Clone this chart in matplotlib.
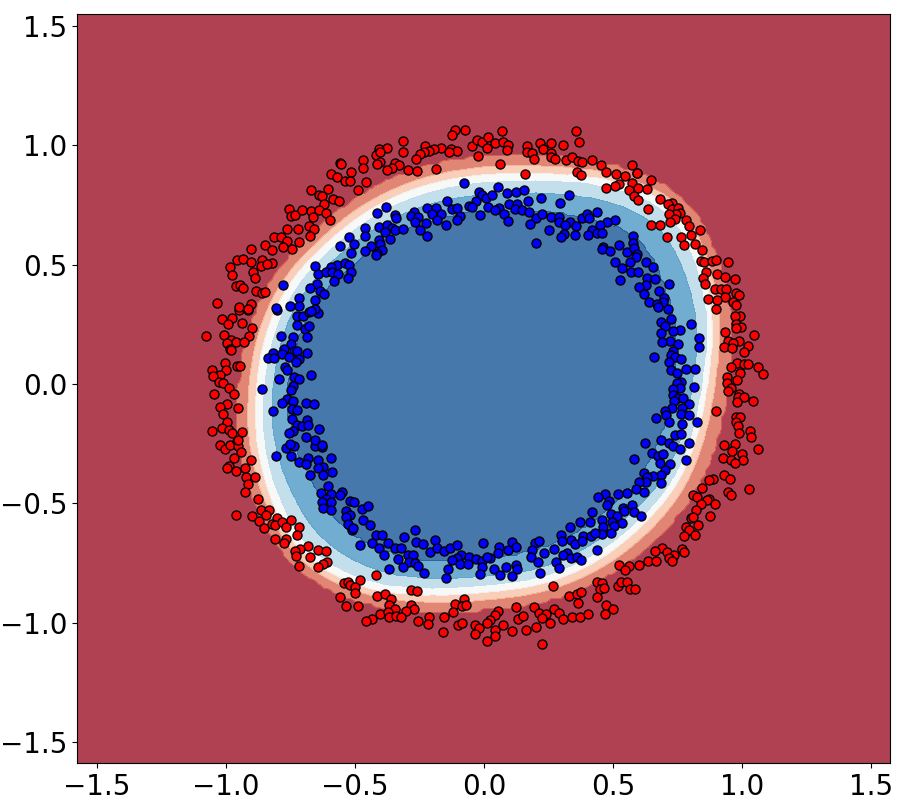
import numpy as np
import matplotlib
matplotlib.use("Agg")
import matplotlib.pyplot as plt

red_points = [
(-0.558,0.924),(-0.591,0.878),(-0.570,0.868),(-0.670,0.813),(-0.605,0.816),(-0.640,0.792),(-0.626,0.787),(-0.586,0.777),(-0.561,0.766),(-0.621,0.756),
(-0.755,0.735),(-0.746,0.704),(-0.730,0.707),(-0.706,0.727),(-0.671,0.725),(-0.640,0.727),(-0.610,0.717),(-0.663,0.699),(-0.595,0.689),(-0.763,0.648),
(-0.719,0.650),(-0.677,0.661),(-0.657,0.648),(-0.675,0.622),(-0.813,0.617),(-0.788,0.617),(-0.763,0.599),(-0.715,0.594),(-0.849,0.581),(-0.822,0.561),
(-0.779,0.573),(-0.742,0.567),(-0.903,0.564),
(-0.112,1.063),(-0.074,1.064),(-0.124,1.042),(-0.312,1.019),(-0.230,0.997),(-0.165,0.990),(-0.195,0.984),(-0.213,0.977),(-0.128,0.984),(-0.106,0.977),
(-0.136,0.970),(-0.232,0.970),(-0.247,0.962),(-0.312,0.973),(-0.374,0.987),(-0.407,0.983),(-0.418,0.960),(-0.403,0.970),(-0.470,0.939),(-0.262,0.941),
(-0.401,0.928),(-0.414,0.921),(-0.345,0.924),(-0.328,0.916),(-0.358,0.904),(-0.374,0.896),(-0.470,0.904),(-0.294,0.897),(-0.261,0.892),(-0.185,0.902),
(-0.516,0.890),(-0.554,0.923),(-0.538,0.850),(-0.520,0.851),(-0.457,0.848),(-0.489,0.811),(-0.047,0.997),(-0.027,1.022),(-0.007,1.015),
(0.017,1.036),(0.010,0.988),(-0.023,0.953),
(0.070,1.060),(0.355,1.058),(0.369,1.015),(0.044,1.011),(0.074,1.012),(0.094,1.000),(0.090,0.980),(0.165,0.995),(0.168,0.972),(0.187,0.969),(0.194,0.944),
(0.217,1.008),(0.259,1.008),(0.227,0.983),(0.307,1.002),(0.259,0.966),(0.261,0.952),(0.275,0.944),(0.316,0.938),(0.342,0.952),(0.365,0.935),(0.379,0.930),
(0.419,0.938),(0.453,0.916),(0.062,0.920),(0.160,0.881),(0.359,0.889),(0.375,0.874),(0.472,0.889),(0.512,0.881),(0.544,0.871),(0.573,0.917),(0.592,0.882),
(0.573,0.844),(0.522,0.837),(0.506,0.829),(0.473,0.822),(0.562,0.813),(0.597,0.822),(0.582,0.787),(0.597,0.770),
(0.593,0.884),(0.648,0.853),(0.631,0.815),(0.682,0.777),(0.728,0.758),(0.713,0.752),(0.729,0.734),(0.752,0.738),(0.759,0.717),(0.742,0.710),(0.715,0.714),
(0.739,0.693),(0.635,0.734),(0.645,0.668),(0.682,0.665),(0.719,0.677),(0.783,0.685),(0.793,0.663),(0.835,0.644),(0.801,0.623),(0.709,0.616),(0.764,0.614),
(0.773,0.584),(0.817,0.586),(0.844,0.563),(0.842,0.514),(0.851,0.509),(0.881,0.516),(0.897,0.521),(0.944,0.511),(0.859,0.469),(0.903,0.461),(0.935,0.450),
(0.973,0.440),(0.848,0.444),(0.854,0.418),(0.895,0.399),(0.917,0.398),(0.937,0.398),(0.977,0.381),(0.986,0.373),(0.935,0.366),(0.868,0.357),(0.903,0.350),
(0.964,0.345),(0.974,0.329),
(0.898,0.314),(0.991,0.286),(0.971,0.285),(0.974,0.253),(0.995,0.239),(0.974,0.233),(0.934,0.216),(1.045,0.205),(0.944,0.181),(0.987,0.178),(0.964,0.173),
(0.930,0.156),(0.962,0.152),(1.024,0.157),(1.006,0.134),(0.979,0.086),(1.007,0.085),(1.024,0.083),(1.059,0.073),(0.957,0.072),(1.081,0.040),(0.993,0.044),
(0.942,0.031),(0.940,0.002),(0.980,0.015),(0.956,-0.016),(0.943,-0.029),(0.987,-0.044),(0.982,-0.055),(1.006,-0.054),(1.042,-0.072),(0.978,-0.076),
(0.898,-0.114),(0.974,-0.138),(0.992,-0.138),(0.974,-0.159),(0.982,-0.177),(1.031,-0.197),(0.988,-0.207),
(1.033,-0.224),(0.928,-0.257),(0.973,-0.253),(1.059,-0.274),(0.962,-0.281),(0.999,-0.295),(0.925,-0.312),(0.957,-0.320),(1.001,-0.319),(0.973,-0.330),
(0.931,-0.380),(0.952,-0.398),(0.885,-0.400),(0.870,-0.403),(1.027,-0.442),(0.944,-0.452),(0.957,-0.464),(0.845,-0.436),(0.809,-0.467),(0.823,-0.473),
(0.873,-0.481),(0.864,-0.487),(0.841,-0.504),(0.895,-0.504),(0.819,-0.527),(0.801,-0.560),(0.811,-0.558),(0.875,-0.554),(0.830,-0.589),(0.783,-0.599),
(0.793,-0.610),(0.775,-0.637),(0.818,-0.634),(0.689,-0.688),(0.661,-0.698),(0.707,-0.704),(0.765,-0.690),(0.774,-0.702),(0.735,-0.715),(0.717,-0.729),
(0.636,-0.743),(0.664,-0.742),(0.726,-0.743),(0.524,-0.757),(0.560,-0.764),(0.600,-0.757),
(0.544,-0.778),(0.268,-0.847),(0.436,-0.830),(0.457,-0.833),(0.451,-0.857),(0.466,-0.854),(0.520,-0.847),(0.530,-0.830),(0.555,-0.831),(0.565,-0.857),
(0.584,-0.859),(0.330,-0.887),(0.359,-0.882),(0.375,-0.873),(0.437,-0.893),(0.365,-0.918),(0.123,-0.934),(0.195,-0.934),(0.213,-0.959),(0.272,-0.943),
(0.292,-0.960),(0.241,-0.964),(0.223,-0.980),(0.133,-0.983),(0.150,-0.974),(0.307,-0.985),(0.255,-1.001),(0.342,-0.976),(0.372,-0.977),(0.401,-0.962),
(0.472,-0.928),(0.499,-0.941),(0.468,-0.964),(0.055,-0.952),(0.043,-0.969),(0.023,-0.990),(0.072,-1.011),(0.043,-1.029),(0.110,-1.033),(0.163,-1.030),
(0.203,-1.020),(0.043,-1.055),(0.226,-1.089),
(-0.419,-0.802),(-0.480,-0.822),(-0.542,-0.833),(-0.525,-0.829),(-0.519,-0.843),(-0.499,-0.850),(-0.499,-0.875),(-0.284,-0.865),(-0.258,-0.869),(-0.558,-0.892),
(-0.413,-0.889),(-0.382,-0.880),(-0.361,-0.901),(-0.369,-0.925),(-0.533,-0.929),(-0.489,-0.929),(-0.114,-0.920),(-0.076,-0.899),(-0.085,-0.931),(-0.069,-0.928),
(-0.282,-0.927),(-0.271,-0.943),(-0.302,-0.952),(-0.345,-0.942),(-0.121,-0.955),(-0.403,-0.964),(-0.370,-0.956),(-0.369,-0.978),(-0.342,-0.974),(-0.323,-0.976),
(-0.434,-0.983),(-0.458,-0.992),(-0.213,-0.976),(-0.254,-0.994),(-0.218,-1.004),(-0.154,-0.978),(-0.102,-1.008),(-0.085,-1.001),(-0.160,-1.041),(-0.035,-1.008),
(-0.020,-1.023),(-0.035,-1.048),(0.013,-1.001),(0.010,-1.078),
(-1.022,-0.256),(-1.003,-0.274),(-0.983,-0.256),(-0.958,-0.239),(-0.951,-0.260),(-0.942,-0.285),(-0.968,-0.309),(-0.986,-0.344),(-0.996,-0.354),(-0.903,-0.319),
(-0.924,-0.354),(-0.961,-0.365),(-0.921,-0.389),(-0.887,-0.391),(-0.912,-0.421),(-0.927,-0.452),(-0.874,-0.484),(-0.961,-0.547),(-0.898,-0.552),(-0.863,-0.529),
(-0.831,-0.529),(-0.845,-0.550),(-0.870,-0.575),(-0.850,-0.604),(-0.803,-0.561),(-0.822,-0.585),(-0.809,-0.592),(-0.783,-0.580),(-0.749,-0.571),(-0.768,-0.601),
(-0.715,-0.601),(-0.725,-0.634),(-0.810,-0.648),(-0.767,-0.649),(-0.773,-0.666),(-0.680,-0.680),(-0.712,-0.690),(-0.733,-0.701),(-0.641,-0.694),(-0.612,-0.699),
(-0.727,-0.722),(-0.674,-0.725),(-0.716,-0.761),(-0.607,-0.746),(-0.625,-0.755),(-0.641,-0.767),
(-1.013,0.271),(-0.975,0.275),(-0.990,0.253),(-0.938,0.254),(-0.897,0.234),(-1.075,0.199),(-1.005,0.204),(-0.911,0.201),(-0.981,0.184),(-0.959,0.177),
(-0.929,0.177),(-0.994,0.170),(-0.983,0.145),(-0.978,0.142),(-1.003,0.089),(-0.956,0.075),(-0.944,0.075),(-1.055,0.057),(-0.999,0.059),(-1.022,0.037),
(-1.050,0.033),(-1.028,0.008),(-1.009,0.005),(-0.986,-0.018),(-0.968,-0.040),(-1.046,-0.040),(-0.994,-0.085),(-1.022,-0.096),(-0.954,-0.102),(-1.012,-0.124),
(-0.996,-0.159),(-1.014,-0.186),(-1.053,-0.197),(-0.988,-0.191),(-0.939,-0.202),(-0.974,-0.204),(-0.954,-0.236),(-0.947,0.310),(-0.912,0.310),
(-0.958,0.519),(-0.934,0.523),(-0.982,0.488),(-0.901,0.509),(-0.861,0.518),(-0.820,0.508),(-0.863,0.495),(-0.842,0.502),(-0.976,0.455),(-0.893,0.467),
(-0.887,0.442),(-0.960,0.411),(-0.945,0.413),(-0.934,0.403),(-0.883,0.389),(-0.861,0.383),(-0.848,0.386),(-1.035,0.341),(-0.947,0.323),(-0.903,0.333),(-0.912,0.316),
]

blue_points = [
(-0.079,0.843),(-0.020,0.805),(-0.142,0.767),(-0.009,0.791),(0.006,0.781),(-0.030,0.766),(-0.378,0.742),(-0.416,0.717),(-0.345,0.708),(-0.339,0.694),
(-0.270,0.721),(-0.220,0.739),(-0.185,0.736),(-0.167,0.714),(-0.200,0.714),(-0.125,0.731),(-0.106,0.736),(-0.057,0.745),(-0.047,0.742),(0.017,0.742),
(-0.092,0.704),(-0.105,0.685),(-0.014,0.707),(-0.284,0.704),(-0.254,0.700),(-0.269,0.679),(-0.226,0.675),(-0.181,0.686),(-0.149,0.665),(-0.459,0.654),
(-0.407,0.658),(-0.374,0.668),(-0.355,0.655),(-0.345,0.643),(-0.383,0.637),(-0.312,0.648),(-0.247,0.643),(-0.461,0.622),(-0.521,0.615),(-0.222,0.620),
(-0.365,0.609),(-0.503,0.585),(-0.408,0.602),(-0.401,0.585),(-0.437,0.577),(-0.459,0.559),(-0.515,0.550),(-0.395,0.563),(-0.558,0.577),
(0.054,0.825),(0.030,0.791),(0.089,0.799),(0.124,0.806),(0.155,0.812),(0.330,0.791),(0.222,0.781),(0.294,0.759),(0.169,0.766),(0.095,0.752),(0.129,0.753),
(0.057,0.738),(0.041,0.728),(0.119,0.735),(0.076,0.714),(0.148,0.728),(0.173,0.722),(0.200,0.696),(0.226,0.710),(0.259,0.699),(0.290,0.700),(0.332,0.680),
(0.290,0.678),(0.313,0.665),(0.357,0.662),(0.381,0.697),(0.400,0.713),(0.408,0.696),(0.436,0.721),(0.507,0.687),(0.475,0.678),(0.450,0.664),(0.093,0.683),
(0.178,0.669),(0.252,0.647),(0.310,0.630),(0.298,0.617),(0.352,0.626),(0.417,0.647),(0.404,0.623),(0.439,0.633),(0.457,0.634),(0.575,0.620),(0.575,0.589),
(0.201,0.592),(0.522,0.582),(0.459,0.574),(0.457,0.566),(0.489,0.556),(0.553,0.552),(0.580,0.568),(0.591,0.543),
(0.588,0.531),(0.565,0.511),(0.627,0.511),(0.654,0.492),(0.571,0.467),(0.595,0.471),(0.631,0.443),(0.662,0.441),(0.626,0.413),(0.717,0.419),(0.600,0.405),
(0.679,0.388),(0.619,0.376),(0.698,0.359),(0.640,0.343),(0.694,0.343),(0.671,0.336),(0.534,0.486),(0.507,0.511),(0.527,0.436),
(0.673,0.324),(0.712,0.316),(0.724,0.272),(0.685,0.258),(0.700,0.243),(0.800,0.253),(0.760,0.227),(0.731,0.220),(0.685,0.212),(0.833,0.191),(0.833,0.156),
(0.722,0.180),(0.690,0.174),(0.751,0.166),(0.731,0.139),(0.660,0.113),(0.724,0.120),(0.738,0.111),(0.764,0.103),(0.716,0.094),(0.725,0.057),(0.748,0.047),
(0.783,0.061),(0.818,0.061),(0.764,0.009),(0.746,0.002),(0.759,-0.015),(0.815,-0.011),(0.733,-0.023),(0.730,-0.046),(0.751,-0.058),(0.771,-0.058),(0.734,-0.072),
(0.795,-0.086),(0.729,-0.099),(0.768,-0.102),(0.702,-0.113),(0.706,-0.128),(0.761,-0.125),(0.795,-0.132),(0.667,-0.141),(0.715,-0.159),(0.768,-0.166),
(0.823,-0.160),(0.739,-0.212),(0.761,-0.211),
(0.624,-0.246),(0.684,-0.236),(0.715,-0.246),(0.793,-0.246),(0.730,-0.260),(0.757,-0.274),(0.652,-0.288),(0.675,-0.302),(0.692,-0.295),(0.582,-0.315),
(0.782,-0.317),(0.683,-0.330),(0.719,-0.336),(0.699,-0.359),(0.618,-0.371),(0.685,-0.380),(0.653,-0.387),(0.630,-0.389),(0.628,-0.410),(0.601,-0.410),
(0.685,-0.417),(0.590,-0.441),(0.621,-0.453),(0.553,-0.455),(0.520,-0.462),(0.467,-0.460),(0.484,-0.491),(0.477,-0.508),(0.537,-0.518),(0.543,-0.534),
(0.574,-0.508),(0.582,-0.537),(0.606,-0.555),(0.490,-0.546),(0.514,-0.554),(0.533,-0.581),(0.497,-0.578),(0.504,-0.596),(0.455,-0.571),(0.459,-0.599),
(0.490,-0.624),(0.457,-0.630),(0.372,-0.578),(0.418,-0.536),(0.441,-0.473),(0.410,-0.578),(0.333,-0.599),
(0.107,-0.663),(0.124,-0.682),(0.058,-0.684),(0.094,-0.696),(0.053,-0.707),(0.023,-0.728),(0.197,-0.668),(0.214,-0.658),(0.185,-0.696),(0.182,-0.724),
(0.232,-0.707),(0.210,-0.747),(0.085,-0.768),(0.124,-0.759),(0.129,-0.777),(0.040,-0.777),(0.062,-0.802),(0.108,-0.805),(0.217,-0.791),(0.279,-0.745),
(0.289,-0.770),(0.272,-0.690),(0.298,-0.634),(0.303,-0.656),(0.337,-0.654),(0.352,-0.670),(0.382,-0.637),(0.378,-0.656),(0.414,-0.635),(0.430,-0.626),
(0.320,-0.710),(0.307,-0.718),(0.337,-0.731),(0.359,-0.726),(0.375,-0.738),(0.436,-0.697),
(-0.418,-0.634),(-0.396,-0.633),(-0.310,-0.642),(-0.479,-0.675),(-0.434,-0.668),(-0.407,-0.689),(-0.373,-0.668),(-0.345,-0.689),(-0.323,-0.689),(-0.386,-0.715),
(-0.263,-0.661),(-0.235,-0.672),(-0.190,-0.654),(-0.209,-0.703),(-0.182,-0.689),(-0.154,-0.698),(-0.130,-0.686),(-0.106,-0.675),(-0.005,-0.668),(-0.294,-0.715),
(-0.276,-0.718),(-0.333,-0.733),(-0.292,-0.745),(-0.267,-0.749),(-0.254,-0.763),(-0.312,-0.767),(-0.368,-0.775),(-0.231,-0.794),(-0.088,-0.715),(-0.106,-0.731),
(-0.123,-0.738),(-0.057,-0.726),(-0.031,-0.733),(-0.009,-0.740),(0.010,-0.724),(-0.093,-0.753),(-0.061,-0.756),(-0.009,-0.766),(-0.138,-0.775),(-0.016,-0.798),
(-0.146,-0.812),(-0.510,-0.612),(-0.267,-0.612),
(-0.807,-0.300),(-0.768,-0.270),(-0.736,-0.258),(-0.749,-0.300),(-0.654,-0.258),(-0.629,-0.263),(-0.715,-0.327),(-0.683,-0.312),(-0.690,-0.335),(-0.641,-0.319),
(-0.622,-0.347),(-0.641,-0.354),(-0.587,-0.370),(-0.625,-0.383),(-0.672,-0.382),(-0.594,-0.312),(-0.605,-0.426),(-0.631,-0.456),(-0.592,-0.459),(-0.551,-0.454),
(-0.558,-0.466),(-0.613,-0.480),(-0.626,-0.494),(-0.592,-0.494),(-0.622,-0.519),(-0.594,-0.529),(-0.518,-0.491),(-0.503,-0.494),(-0.474,-0.522),(-0.448,-0.510),
(-0.534,-0.533),(-0.519,-0.550),(-0.534,-0.559),(-0.469,-0.571),(-0.525,-0.585),(-0.509,-0.603),(-0.442,-0.592),
(-0.803,0.310),(-0.724,0.286),(-0.699,0.285),(-0.676,0.303),(-0.641,0.299),(-0.725,0.246),(-0.694,0.230),(-0.676,0.244),(-0.785,0.201),(-0.741,0.195),
(-0.686,0.198),(-0.747,0.166),(-0.773,0.145),(-0.737,0.138),(-0.723,0.139),(-0.685,0.128),(-0.816,0.128),(-0.783,0.124),(-0.757,0.114),(-0.837,0.107),
(-0.813,0.110),(-0.717,0.103),(-0.728,0.090),(-0.770,0.072),(-0.763,0.058),(-0.671,0.036),(-0.734,0.029),(-0.715,0.019),(-0.795,0.019),(-0.741,-0.008),
(-0.748,-0.026),(-0.861,-0.022),(-0.764,-0.061),(-0.783,-0.078),(-0.738,-0.071),(-0.688,-0.079),(-0.659,-0.086),(-0.816,-0.113),(-0.745,-0.103),(-0.723,-0.110),
(-0.745,-0.146),(-0.684,-0.152),(-0.725,-0.173),(-0.703,-0.177),(-0.680,-0.173),(-0.639,-0.190),(-0.741,-0.197),(-0.756,-0.204),(-0.690,-0.222),(-0.654,-0.233),
(-0.751,-0.250),(-0.628,-0.257),
(-0.416,0.550),(-0.653,0.494),(-0.571,0.497),(-0.538,0.505),(-0.523,0.498),(-0.593,0.491),(-0.642,0.460),(-0.612,0.467),(-0.587,0.467),(-0.564,0.459),
(-0.515,0.467),(-0.527,0.445),(-0.582,0.432),(-0.648,0.418),(-0.780,0.414),(-0.674,0.401),(-0.635,0.390),(-0.621,0.375),(-0.654,0.351),(-0.715,0.362),
(-0.715,0.326),(-0.751,0.327),(-0.804,0.317),(-0.654,0.316),(-0.671,0.306),(-0.420,0.540),
]

# Decision-surface contours: outer radius per direction, and how far each
# following contour lies inside it.
angles_deg = [0,15,30,45,60,75,90,105,120,135,150,165,180,195,210,225,240,255,270,285,300,315,330,345]
outer_radius = [.935,.985,1.04,1.105,1.045,.975,.945,.932,.92,.91,.925,.93,.94,.975,1.015,1.06,1.035,.975,.935,.935,.93,.925,.93,.925]
inset_1 = [.046,.041,.036,.03,.036,.038,.04,.039,.036,.036,.034,.033,.033,.036,.036,.03,.033,.034,.035,.036,.036,.038,.042,.046]
inset_2 = [.075,.07,.06,.055,.065,.07,.072,.07,.067,.065,.063,.062,.062,.065,.06,.055,.06,.065,.068,.068,.07,.075,.075,.075]
inset_3 = [.095,.09,.085,.085,.095,.10,.105,.103,.10,.095,.095,.095,.094,.095,.093,.09,.09,.095,.097,.097,.10,.10,.097,.095]
inset_4 = [.13,.13,.135,.155,.155,.155,.155,.15,.145,.135,.13,.125,.125,.13,.145,.155,.145,.135,.131,.133,.138,.14,.132,.13]
inset_5 = [.20,.205,.225,.24,.235,.225,.215,.21,.205,.195,.185,.18,.179,.195,.23,.245,.225,.205,.202,.205,.208,.21,.207,.20]
contour_levels = [0, .15, .3, .45, .6, .75, .9, 1.05]
x_tick_values = [-1.5, -1.0, -0.5, 0.0, 0.5, 1.0, 1.5]
y_tick_values = [-1.5, -1.0, -0.5, 0.0, 0.5, 1.0, 1.5]

W, H = 899, 805
fig = plt.figure(figsize=(W/100, H/100), dpi=100)
ax = fig.add_axes([77/W, 1-763/H, (890-77)/W, (763-14)/H])

# Surface on a coarse grid, like a classifier's mesh
fine = np.arange(360)
a = np.array(angles_deg + [360], float)
def ring(values):
    v = np.interp(fine, a, list(values) + [values[0]])
    k = np.ones(15)/15
    return np.convolve(np.r_[v[-7:], v, v[:7]], k, mode="valid")
oc = ring(outer_radius)
rings = [oc - ring(i) for i in (inset_5, inset_4, inset_3, inset_2, inset_1)] + [oc]
rings = np.array(rings)
level_at = np.array(contour_levels[1:-1][::-1])

gx = np.arange(-1.60, 1.62, 0.02)
gy = np.arange(-1.60, 1.62, 0.02)
xx, yy = np.meshgrid(gx, gy)
th = (np.degrees(np.arctan2(yy, xx)) % 360).astype(int) % 360
rr = np.hypot(xx, yy)
Z = np.zeros_like(xx)
for i in range(xx.shape[0]):
    for j in range(xx.shape[1]):
        Z[i, j] = np.interp(rr[i, j], np.r_[0, rings[:, th[i, j]], 1.6],
                            np.r_[1.0, level_at, 0.0])

ax.contourf(xx, yy, Z, levels=contour_levels, cmap=plt.cm.RdBu, alpha=.8)

red = np.array(red_points)
blue = np.array(blue_points)
ax.scatter(red[:, 0], red[:, 1], c="#ff0000", edgecolors="k", s=42)
ax.scatter(blue[:, 0], blue[:, 1], c="#0000ff", edgecolors="k", s=42)

ax.set_xlim(-1.576, 1.572)
ax.set_ylim(-1.588, 1.55)
ax.set_xticks(x_tick_values)
ax.set_yticks(y_tick_values)
ax.tick_params(labelsize=20)
fig.savefig("out.png", dpi=100)
